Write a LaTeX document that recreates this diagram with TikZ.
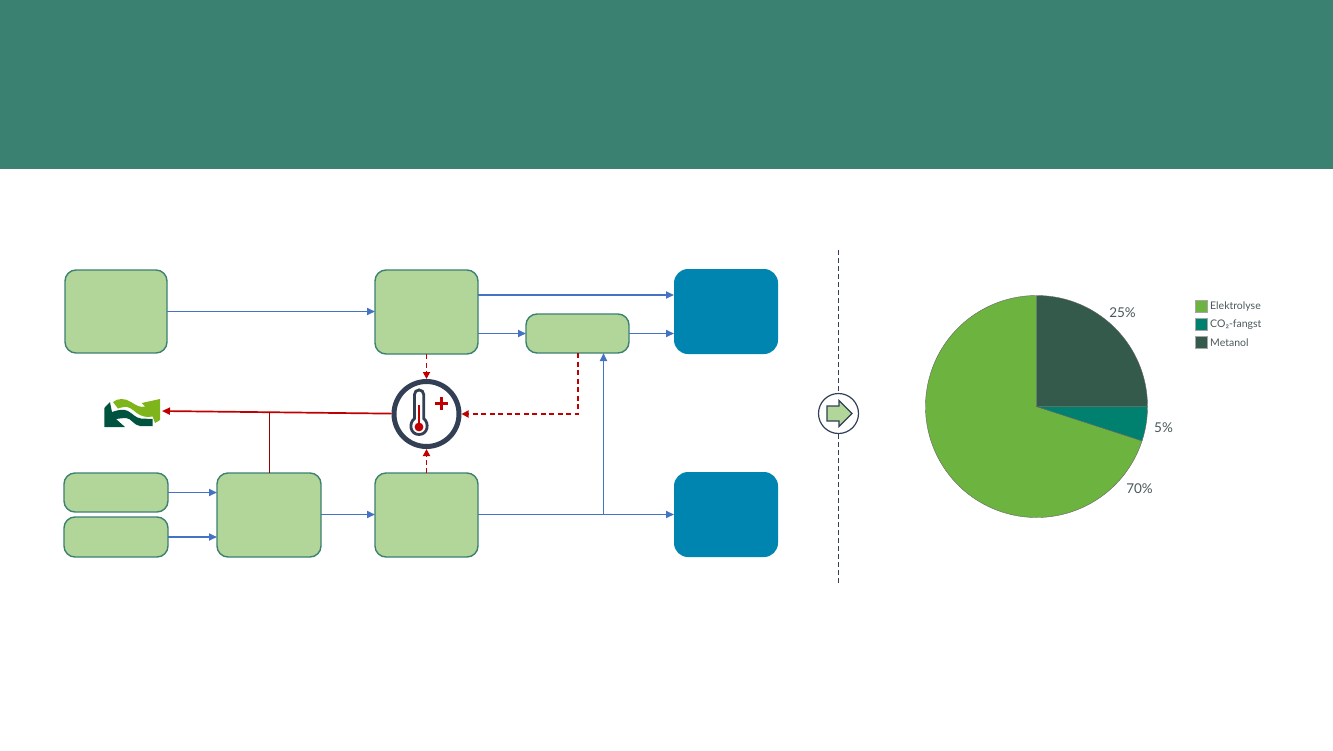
\documentclass[tikz,border=0pt]{standalone}
\usepackage{fontspec}
\setmainfont{Lato}
\usetikzlibrary{arrows.meta,calc,shapes.arrows}
\definecolor{band}{HTML}{3A8171}
\definecolor{boxfill}{HTML}{B2D69A}
\definecolor{boxline}{HTML}{3B8070}
\definecolor{deepblue}{HTML}{0085B0}
\definecolor{flow}{HTML}{4472C4}
\definecolor{heat}{HTML}{C00000}
\definecolor{slate}{HTML}{323F55}
\definecolor{pieA}{HTML}{6DB33F}
\definecolor{pieB}{HTML}{00816F}
\definecolor{pieC}{HTML}{335A4A}
\definecolor{logoA}{HTML}{7DB51B}
\definecolor{logoB}{HTML}{00533F}
\definecolor{txt}{HTML}{4A5858}
\tikzset{
  x=1pt,y=-1pt,
  gbox/.style={draw=boxline,fill=boxfill,line width=1.4pt,rounded corners=11pt,inner sep=0,outer sep=0},
  bbox/.style={fill=deepblue,rounded corners=14pt,inner sep=0,outer sep=0},
  flowline/.style={draw=flow,line width=1.7pt,-{Triangle[length=8pt,width=7pt]}},
  heatdash/.style={draw=heat,line width=1.7pt,dash pattern=on 5pt off 3.5pt,-{Triangle[length=7pt,width=7pt]}},
  heatline/.style={draw=heat,line width=1.7pt,-{Triangle[length=8pt,width=7pt]}},
  swatch/.style={draw=black!35,line width=.3pt,minimum size=12pt,inner sep=0,outer sep=0},
  legendtext/.style={font=\fontsize{10.5}{12}\selectfont,text=txt,anchor=west,inner sep=0},
  pctext/.style={font=\fontsize{13.5}{15}\selectfont,text=txt,inner sep=0},
  slice/.style={draw=black!60,line width=.4pt}
}
\begin{document}
\begin{tikzpicture}
\useasboundingbox (0,0) rectangle (1333,750);
\fill[band] (0,0) rectangle (1333,169);

% boxes
\node[gbox,minimum width=102pt,minimum height=83pt] (a) at (116,311.5) {};
\node[gbox,minimum width=103pt,minimum height=84pt] (b) at (426.5,312) {};
\node[gbox,minimum width=103pt,minimum height=39pt] (c) at (577.5,333.5) {};
\node[bbox,minimum width=104pt,minimum height=85pt] (d) at (726,311.5) {};
\node[gbox,minimum width=104pt,minimum height=39pt] (e) at (116,492.5) {};
\node[gbox,minimum width=104pt,minimum height=40pt] (f) at (116,537) {};
\node[gbox,minimum width=104pt,minimum height=84pt] (g) at (269,515) {};
\node[gbox,minimum width=103pt,minimum height=84pt] (h) at (426.5,515) {};
\node[bbox,minimum width=104pt,minimum height=85pt] (i) at (726,514.5) {};

% thermometer dial
\node[circle,draw=slate,fill=white,line width=5pt,minimum size=65pt,inner sep=0,outer sep=2.5pt] (th) at (426.5,414) {};
\draw[slate,line width=2.8pt,fill=white] (414.5,394.5) arc (180:360:4.6) -- (423.7,418.5)
   .. controls (429.5,423) and (428,434.5) .. (419,434.5)
   .. controls (410,434.5) and (408.5,423) .. (414.5,418.5) -- cycle;
\draw[heat,line width=2.4pt] (419,405) -- (419,426);
\fill[heat] (419,427) circle (4.4);
\draw[heat,line width=3pt] (434.8,403.7) -- (447.8,403.7) (441.3,397.2) -- (441.3,410.2);

% logo
\node[inner sep=0,outer sep=0,minimum width=2pt,minimum height=2pt] (logo) at (161,411) {};
\fill[logoA] (113,402) .. controls (118,398) and (125,398) .. (131,402)
  .. controls (136,405) and (140,408) .. (145,406.5) -- (141.7,403) -- (160,399) -- (160,420) -- (155,423) -- (152.7,416.5)
  .. controls (146,418) and (141,416) .. (136.7,413)
  .. controls (132,409) and (128,406) .. (124,407) .. controls (121,407.5) and (119,408) .. (118,408.5) -- cycle;
\fill[logoB] (104.3,408) -- (110,402) -- (112,412) .. controls (118,410) and (123,408.5) .. (128,411)
  .. controls (133,414) and (136,418) .. (141,418.5) -- (152.7,419) -- (152.7,426) -- (140,426)
  .. controls (134,425.5) and (131,418) .. (126,418) .. controls (123,418) and (120,418.5) .. (116,419) -- (125,427) -- (104.3,427) -- cycle;

% connectors
\coordinate (jb) at (603.5,514.5);
\coordinate (ru) at (0,295);
\coordinate (rm) at (0,333.5);
\draw[flowline] (a) -- (a -| b.west);
\draw[flowline] (b.east |- ru) -- (d.west |- ru);
\draw[flowline] (b.east |- rm) -- (c.west);
\draw[flowline] (c) -- (c -| d.west);
\draw[flowline] (e) -- (e -| g.west);
\draw[flowline] (f) -- (f -| g.west);
\draw[flowline] (g.east |- jb) -- (h.west |- jb);
\draw[flowline] (h.east |- jb) -- (i.west |- jb);
\draw[flowline] (jb) -- (jb |- c.south);
\draw[heatdash] (b) -- (th);
\draw[heatdash] (h) -- (th);
\coordinate (jc) at (578,414);
\draw[heatdash] (jc |- c.south) -- (jc) -- (th);
\draw[heatline] (th) -- (logo);
\coordinate (jg) at (269.5,412);
\draw[heat!80!black,line width=1pt] (g.north -| jg) -- (jg);

% divider
\coordinate (divtop) at (838.5,250);
\coordinate (divbot) at (838.5,584);
\draw[slate,line width=.9pt,dash pattern=on 5pt off 3pt] (divtop) -- (divbot);
\node[circle,draw=slate,fill=white,line width=1.2pt,minimum size=40pt,inner sep=0] (go) at (838.5,413.5) {};
\fill[boxfill,draw=slate,line width=1.3pt] (827,406) -- (839,406) -- (839,400.5) -- (852,413.5) -- (839,426.5) -- (839,421) -- (827,421) -- cycle;

% pie
\coordinate (p) at (1036.5,406.5);
\filldraw[slice,fill=pieA] (p) -- +(18:111) arc (18:270:111) -- cycle;
\filldraw[slice,fill=pieB] (p) -- +(0:111) arc (0:18:111) -- cycle;
\filldraw[slice,fill=pieC] (p) -- +(-90:111) arc (-90:0:111) -- cycle;
\node[pctext] (l25) at (1122.5,312.5) {25\%};
\node[pctext] (l5) at (1163.5,427.5) {5\%};
\node[pctext] (l70) at (1139.5,488.5) {70\%};

% legend
\node[swatch,fill=pieA] (k1) at (1201,306) {};
\node[swatch,fill=pieB] (k2) at (1201,324) {};
\node[swatch,fill=pieC] (k3) at (1201,342) {};
\node[legendtext] (t1) at (1210,307) {Elektrolyse};
\node[legendtext] (t2) at (1210,325) {CO₂-fangst};
\node[legendtext] (t3) at (1210,343) {Metanol};
\end{tikzpicture}
\end{document}
